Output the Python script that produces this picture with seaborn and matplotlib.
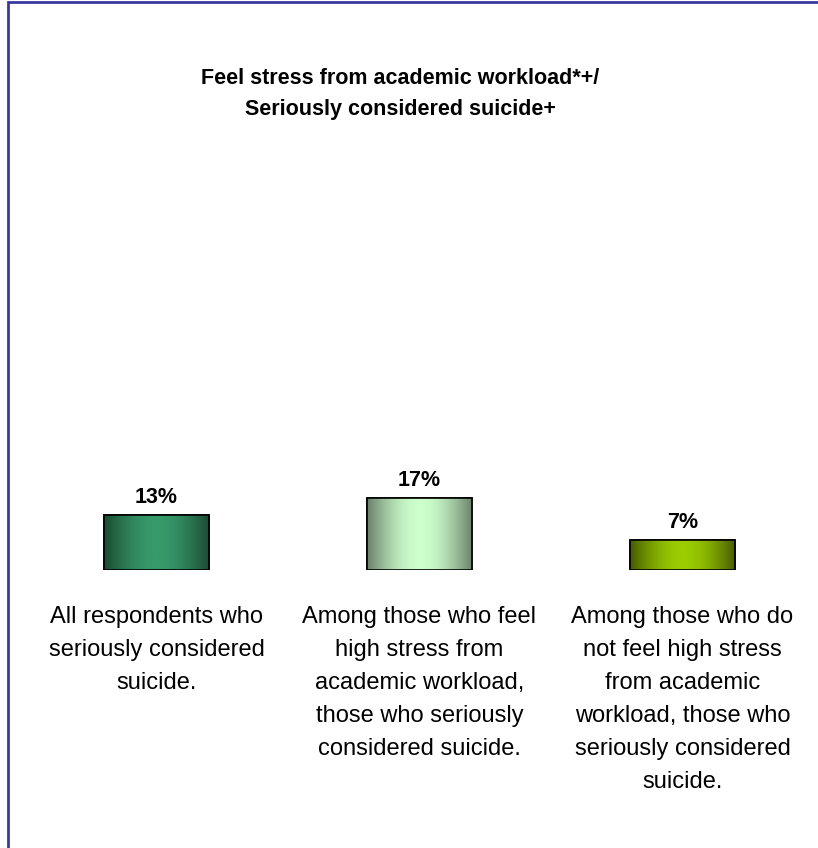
import numpy as np
import pandas as pd
import matplotlib
matplotlib.use('Agg')
import matplotlib.pyplot as plt
import seaborn as sns
from matplotlib.colors import LinearSegmentedColormap
from matplotlib.patches import Rectangle

# Данные
categories = ['All respondents who\nseriously considered\nsuicide.',
              'Among those who feel\nhigh stress from\nacademic workload,\nthose who seriously\nconsidered suicide.',
              'Among those who do\nnot feel high stress\nfrom academic\nworkload, those who\nseriously considered\nsuicide.']
values = [13, 17, 7]
value_labels = ['13%', '17%', '7%']
# цвета градиента: край / центр
edge_colors = ['#1b4a32', '#6b806b', '#465a00']
center_colors = ['#379a6b', '#ccffcc', '#9acc00']

title = 'Feel stress from academic workload*+/\nSeriously considered suicide+'

sns.set_style('white')
plt.rcParams['font.family'] = ['Liberation Sans', 'DejaVu Sans']
plt.rcParams['text.color'] = 'black'
plt.rcParams['xtick.color'] = 'black'

df = pd.DataFrame({'category': categories, 'value': values})

fig = plt.figure(figsize=(8.18, 8.48), dpi=100)
ax = fig.add_axes([25 / 818, 278 / 848, 789 / 818, 425 / 848])

sns.barplot(data=df, x='category', y='value', ax=ax, width=0.4,
            color='white', edgecolor='black', linewidth=1.2)
ax.set_ylim(0, 100)
ax.set_xlim(-0.5, 2.5)

# градиентная заливка столбцов
grad = np.abs(np.sin(np.linspace(0, np.pi, 256)))[None, :]
for bar, c0, c1, lab in zip(ax.patches, edge_colors, center_colors, value_labels):
    cmap = LinearSegmentedColormap.from_list('g', [c0, c1])
    x0, y0 = bar.get_x(), bar.get_y()
    w, h = bar.get_width(), bar.get_height()
    im = ax.imshow(grad, cmap=cmap, aspect='auto', extent=[x0, x0 + w, y0, y0 + h],
                   zorder=bar.get_zorder() + 0.1, vmin=0, vmax=1)
    im.set_clip_path(bar)
    edge = Rectangle((x0, y0), w, h, fill=False, edgecolor='black', linewidth=1.2,
                     zorder=bar.get_zorder() + 0.2)
    ax.add_patch(edge)
    ax.annotate(lab, (x0 + w / 2, y0 + h), xytext=(0, 5), textcoords='offset points',
                ha='center', va='bottom', fontsize=15.5, fontweight='bold', color='black')

ax.set_xlabel('')
ax.set_ylabel('')
ax.set_yticks([])
ax.set_xticks(range(len(categories)), categories, linespacing=1.64,
              multialignment='center', color='black')
ax.tick_params(axis='x', length=0, pad=26, labelsize=17)
sns.despine(ax=ax, left=True, bottom=True)

fig.text(0.489, 1 - 94 / 848, title, ha='center', va='center', fontsize=15.5,
         fontweight='bold', linespacing=1.6, color='black')

# рамка
fig.patches.append(Rectangle((8 / 818, -0.05), 1.1, 1 - 2 / 848 + 0.05, transform=fig.transFigure,
                             fill=False, edgecolor='#3a3a9e', linewidth=2, figure=fig))

fig.savefig('out.png', dpi=100)
